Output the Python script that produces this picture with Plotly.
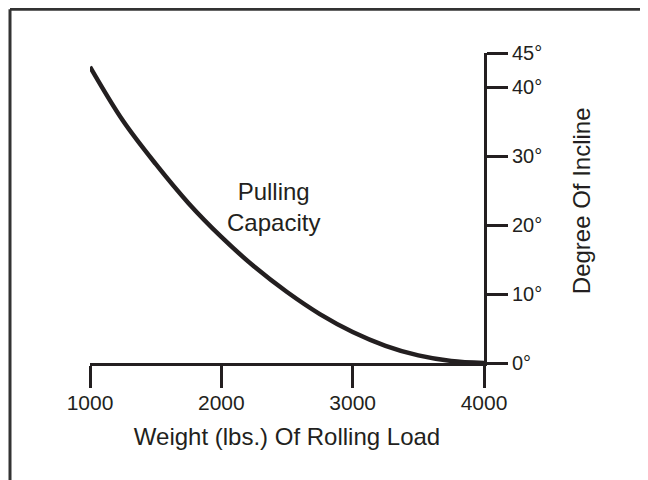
import plotly.graph_objects as go

weight = [1000, 1250, 1500, 1750, 2000, 2250, 2500, 2750, 3000, 3250, 3500, 3750, 4000]
incline = [43, 35.2, 28.9, 23.2, 18.3, 14.0, 10.3, 7.1, 4.5, 2.5, 1.1, 0.3, 0]
x_ticks = [1000, 2000, 3000, 4000]
y_ticks = [0, 10, 20, 30, 40, 45]
y_labels = [f"{v}°" for v in y_ticks]

INK = "#231f20"
FONT = "Liberation Sans, Arial, sans-serif"

fig = go.Figure()
fig.add_trace(go.Scatter(x=weight, y=incline, mode="lines",
                         line=dict(color=INK, width=4.5, shape="spline"),
                         hoverinfo="skip", showlegend=False))

fig.add_annotation(x=2400, y=22.6, text="Pulling<br>Capacity", showarrow=False,
                   font=dict(size=24, color=INK, family=FONT))

# figure is offset 8px by page body margin; work in figure coords
W, H = 640, 472
L = 82; R = 476; T = 45.3; B = 355.3
def px(xp): return (xp - L) / (R - L)
def py(yp): return (B - yp) / (B - T)

fig.add_annotation(xref="paper", yref="paper", x=px(573), y=py(193.5), text="Degree Of Incline",
                   textangle=-90, showarrow=False, xanchor="center", yanchor="middle",
                   font=dict(size=24, color=INK, family=FONT))

fig.add_shape(type="line", xref="paper", yref="paper", x0=px(2), x1=px(660), y0=py(1.5), y1=py(1.5),
              line=dict(color="#333", width=3))
fig.add_shape(type="line", xref="paper", yref="paper", x0=px(2), x1=px(2), y0=py(1.5), y1=py(480),
              line=dict(color="#333", width=3))

fig.update_layout(
    width=W, height=H,
    margin=dict(l=L, r=W - R, t=T, b=H - B, pad=0),
    paper_bgcolor="white", plot_bgcolor="white",
    font=dict(family=FONT, size=20, color=INK),
    xaxis=dict(range=[1000, 4000], tickvals=x_ticks, ticks="outside", ticklen=22, tickwidth=3,
               tickcolor=INK, showline=True, linecolor=INK, linewidth=3, showgrid=False, zeroline=False,
               title=dict(text="Weight (lbs.) Of Rolling Load", standoff=15, font=dict(size=24)),
               tickfont=dict(size=21), ticklabelstandoff=-3),
    yaxis=dict(range=[0, 45], side="right", tickvals=y_ticks, ticktext=y_labels, ticks="outside",
               ticklen=21, tickwidth=3, tickcolor=INK, showline=True, linecolor=INK, linewidth=3,
               showgrid=False, zeroline=False, tickfont=dict(size=20)),
)

fig.write_html("out.html")
